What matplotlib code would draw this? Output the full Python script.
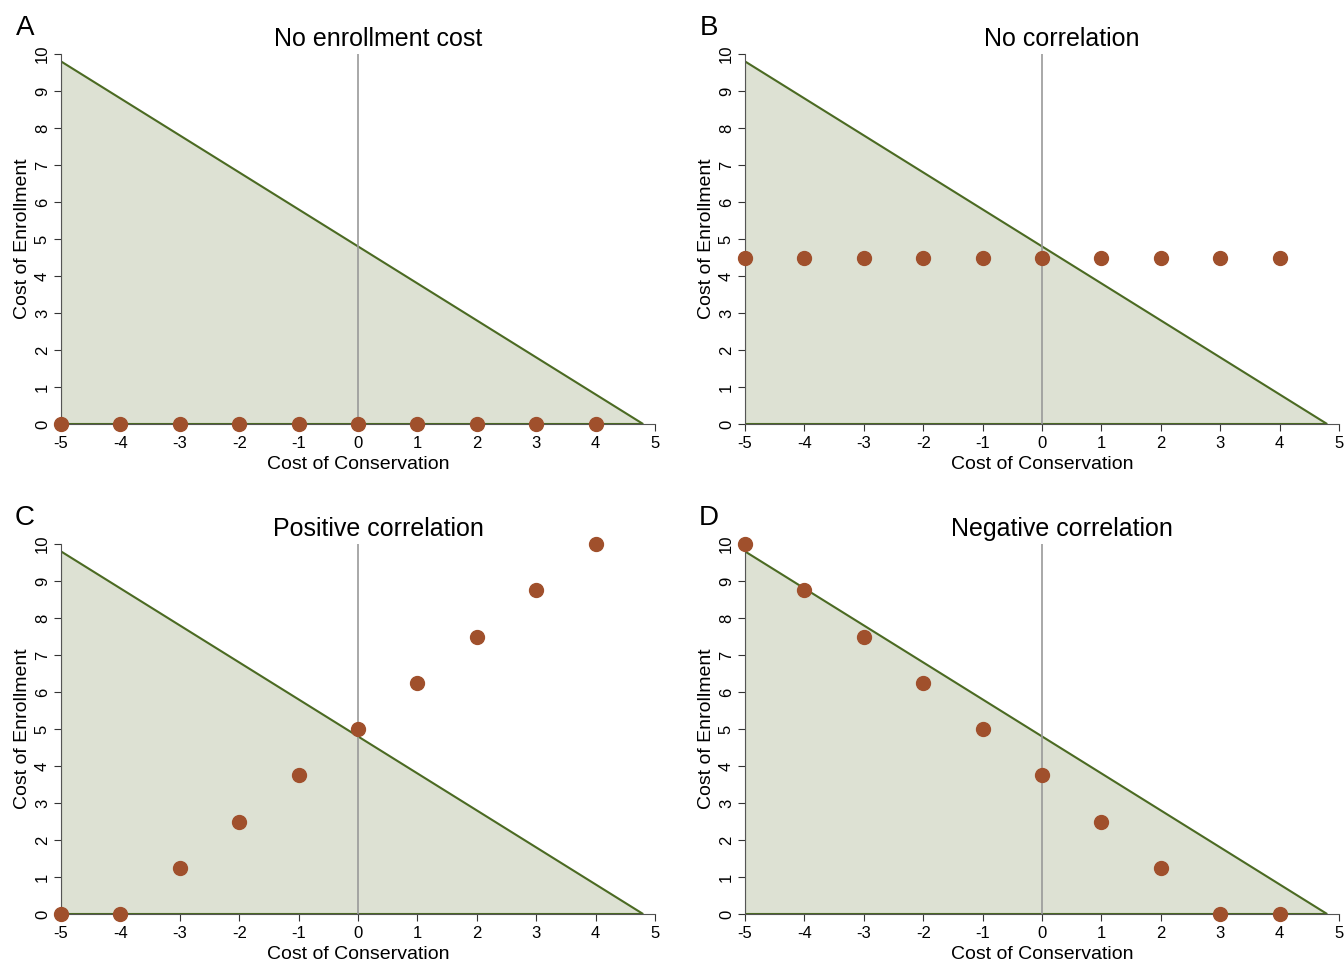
import numpy as np
import matplotlib
matplotlib.use("Agg")
import matplotlib.pyplot as plt

plt.rcParams['font.family'] = ['Liberation Sans', 'DejaVu Sans']
plt.rcParams['axes.unicode_minus'] = False

# data
conservation = [-5, -4, -3, -2, -1, 0, 1, 2, 3, 4]
enroll_none = [0, 0, 0, 0, 0, 0, 0, 0, 0, 0]
enroll_flat = [4.5, 4.5, 4.5, 4.5, 4.5, 4.5, 4.5, 4.5, 4.5, 4.5]
enroll_pos = [0, 0, 1.25, 2.5, 3.75, 5, 6.25, 7.5, 8.75, 10]
enroll_neg = [10, 8.75, 7.5, 6.25, 5, 3.75, 2.5, 1.25, 0, 0]

# triangle of enrolled region: budget line from (-5, 9.8) to (4.8, 0)
tri_x = [-5, -5, 4.8]
tri_y = [0, 9.8, 0]

panels = [
    ("A", "No enrollment cost", enroll_none),
    ("B", "No correlation", enroll_flat),
    ("C", "Positive correlation", enroll_pos),
    ("D", "Negative correlation", enroll_neg),
]

W, H = 1344, 961
fig = plt.figure(figsize=(W / 100, H / 100), dpi=100)

# pixel positions of the plot regions (x=-5 left, x=5 right, y=0 bottom, y=10 top)
lefts = [61, 745, 61, 745]
bottoms = [424, 424, 914, 914]
pw, ph = 594, 370

fill_col = '#dde1d3'
line_col = '#4b6a22'
dot_col = '#a0502c'

for i, (letter, title, yvals) in enumerate(panels):
    l, b = lefts[i], bottoms[i]
    ax = fig.add_axes([l / W, 1 - b / H, pw / W, ph / H])
    ax.set_xlim(-5, 5)
    ax.set_ylim(0, 10)
    for s in ['top', 'right']:
        ax.spines[s].set_visible(False)
    for s in ['left', 'bottom']:
        ax.spines[s].set_color('#555555')
        ax.spines[s].set_linewidth(0.8)
    ax.fill(tri_x, tri_y, facecolor=fill_col, edgecolor=line_col, linewidth=1.5, zorder=1)
    ax.plot([0, 0], [0, 10], color='#999999', linewidth=1.2, zorder=2)
    ax.plot(conservation, yvals, 'o', color=dot_col, markersize=10, clip_on=False, zorder=3)

    ax.set_xticks(range(-5, 6))
    ax.set_yticks(range(0, 11))
    ax.tick_params(axis='both', direction='out', length=5, width=0.8, color='#333333', labelsize=12)
    ax.tick_params(axis='x', pad=4)
    ax.tick_params(axis='y', pad=3)
    for lab in ax.get_yticklabels():
        lab.set_rotation(90)
        lab.set_va('center')
    ax.set_xlabel("Cost of Conservation", fontsize=14, labelpad=3)
    ax.set_ylabel("Cost of Enrollment", fontsize=14, labelpad=3)

    # title and panel letter
    fig.text((l + pw / 2 + 20) / W, 1 - (b - ph - 15) / H, title,
             fontsize=18, ha='center', va='center')
    fig.text((l - 36) / W, 1 - (b - ph - 26) / H, letter,
             fontsize=20, ha='center', va='center')

fig.savefig("out.png", dpi=100)
